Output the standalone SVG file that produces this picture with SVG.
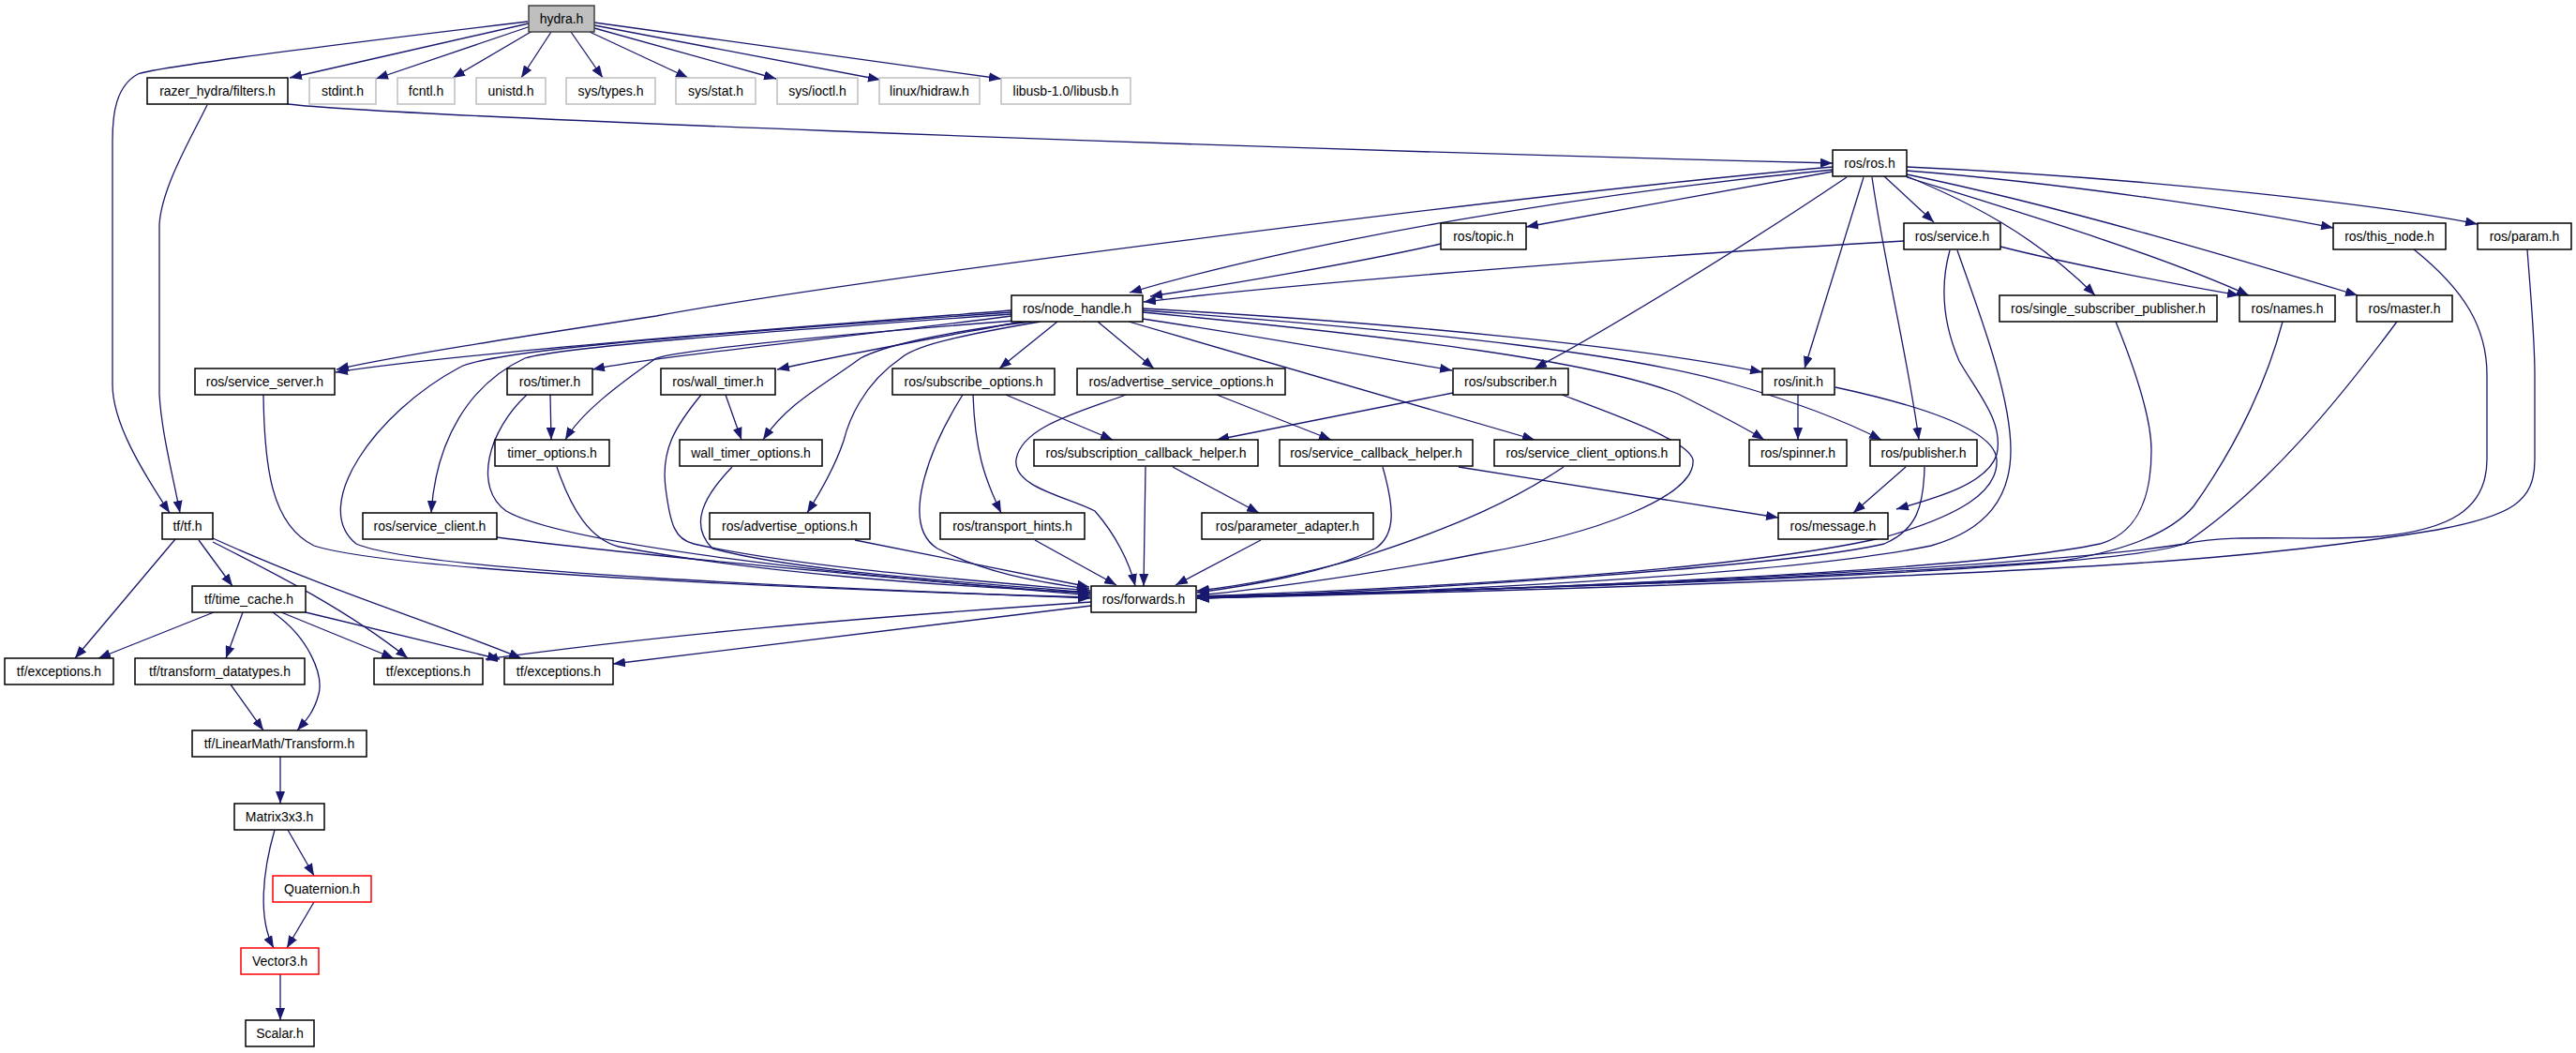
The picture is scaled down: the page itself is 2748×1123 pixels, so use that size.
<svg xmlns="http://www.w3.org/2000/svg" width="2748" height="1123" viewBox="0 0 2748 1123">
<defs>
<marker id="arr" markerUnits="userSpaceOnUse" markerWidth="13" markerHeight="10" viewBox="0 0 13 10" refX="13" refY="5" orient="auto">
<path d="M0,0 L13,5 L0,10 z" fill="#191970"/>
</marker>
<style>
.n rect{fill:#fff;stroke:#000;stroke-width:1.5}
.n.g rect{stroke:#bfbfbf}
.n.r rect{stroke:#ff0000}
.n.root rect{fill:#bfbfbf;stroke:#404040}
.n text{font-family:"Liberation Sans",Arial,sans-serif;font-size:14px;fill:#000;text-anchor:middle}
#edges path{fill:none;stroke:#191970;stroke-width:1.3;marker-end:url(#arr)}
</style>
</defs>
<rect width="2748" height="1123" fill="#fff"/>
<g id="edges">
<path d="M564,25 L309,83"/>
<path d="M566,28 L401,84"/>
<path d="M568,33 L483,83"/>
<path d="M588,34 L556,83"/>
<path d="M609,34 L643,83"/>
<path d="M629,34 L734,83"/>
<path d="M634,30 L828,84"/>
<path d="M634,27 L939,85"/>
<path d="M634,24 L1068,84"/>
<path d="M563,23 C420,40 170,70 147,79 C124,92 120,120 120,150 L120,410 C120,450 150,500 181,547"/>
<path d="M221,112 C205,145 172,200 170,240 L170,420 C172,460 185,510 192,547"/>
<path d="M307,111 C400,122 1200,155 1955,174"/>
<path d="M1955,183 L1628,242"/>
<path d="M1955,181 C1700,205 1400,255 1205,312"/>
<path d="M1955,178 C1600,210 900,300 700,337 C550,360 420,380 359,394"/>
<path d="M1537,260 C1450,280 1300,305 1227,316"/>
<path d="M2031,257 C1800,270 1400,300 1220,322"/>
<path d="M2010,188 L2063,237"/>
<path d="M1970,189 C1850,270 1700,360 1637,393"/>
<path d="M1988,189 L1925,393"/>
<path d="M1997,189 C2010,280 2035,380 2047,469"/>
<path d="M2034,182 C2200,195 2400,225 2489,243"/>
<path d="M2034,178 C2300,190 2550,220 2643,239"/>
<path d="M2034,186 C2200,220 2400,280 2515,315"/>
<path d="M2034,189 C2150,225 2300,270 2399,315"/>
<path d="M2034,188 C2100,215 2170,250 2235,315"/>
<path d="M2134,263 C2200,280 2330,305 2389,315"/>
<path d="M1079,331 C900,345 500,375 358,397"/>
<path d="M1079,333 C700,360 520,375 490,392 C400,440 330,540 380,580 C450,610 900,628 1163,638"/>
<path d="M1079,335 C800,355 600,370 560,382 C500,410 465,470 460,547"/>
<path d="M1079,337 C900,360 700,380 632,394"/>
<path d="M1082,342 C850,360 720,375 700,382 C660,410 620,440 603,469"/>
<path d="M1090,343 C1000,360 900,378 829,394"/>
<path d="M1100,343 C1000,355 940,370 918,382 C880,410 840,430 814,469"/>
<path d="M1110,343 C1010,360 975,370 961,382 C920,410 905,450 900,470 C890,500 875,525 861,547"/>
<path d="M1128,343 L1066,393"/>
<path d="M1171,343 L1231,393"/>
<path d="M1219,340 C1350,360 1450,378 1549,395"/>
<path d="M1204,343 L1637,469"/>
<path d="M1219,333 C1500,360 1700,385 1790,420 C1830,440 1860,455 1882,469"/>
<path d="M1219,331 C1550,355 1750,380 1850,410 C1920,430 1970,450 2007,469"/>
<path d="M1219,329 C1500,345 1750,370 1880,397"/>
<path d="M281,421 C282,500 290,560 335,582 C420,610 900,630 1163,637"/>
<path d="M562,421 C520,460 505,520 540,545 C600,580 900,615 1163,633"/>
<path d="M587,421 L588,469"/>
<path d="M594,498 C610,545 630,575 660,583 C800,610 1000,625 1163,632"/>
<path d="M530,573 C700,595 1000,620 1163,635"/>
<path d="M774,421 L791,469"/>
<path d="M748,421 C720,455 705,480 710,520 C715,560 720,575 740,580 C850,605 1050,620 1163,630"/>
<path d="M781,498 C750,530 735,560 760,585 C850,610 1050,622 1163,632"/>
<path d="M912,576 L1162,626"/>
<path d="M1027,421 C990,480 960,560 1000,585 C1050,610 1100,620 1162,628"/>
<path d="M1038,421 C1040,480 1050,510 1068,547"/>
<path d="M1073,421 L1187,469"/>
<path d="M1201,421 C1150,440 1090,455 1084,490 C1080,520 1140,530 1168,545 C1190,570 1205,600 1211,625"/>
<path d="M1298,421 L1420,469"/>
<path d="M1550,419 L1298,469"/>
<path d="M1222,498 L1220,625"/>
<path d="M1251,498 L1343,547"/>
<path d="M1104,576 L1191,624"/>
<path d="M1345,576 L1254,624"/>
<path d="M1475,498 C1487,540 1490,570 1467,585 C1420,610 1330,625 1277,632"/>
<path d="M1556,498 L1897,552"/>
<path d="M1668,498 C1620,530 1560,560 1450,595 C1380,615 1320,625 1277,630"/>
<path d="M1666,421 C1730,445 1800,470 1806,490 C1810,530 1700,570 1580,590 C1480,610 1350,628 1277,635"/>
<path d="M1918,421 L1918,469"/>
<path d="M1958,413 C2060,435 2128,460 2130,490 C2132,525 2090,550 2010,573 C1850,610 1500,628 1277,636"/>
<path d="M2033,498 L1977,547"/>
<path d="M2053,498 C2052,540 2045,565 2010,580 C1900,605 1500,630 1277,638"/>
<path d="M2080,267 C2068,310 2075,350 2090,385 C2110,420 2138,450 2130,485 C2120,515 2070,530 2023,543"/>
<path d="M2088,267 C2110,330 2145,420 2145,480 C2145,530 2120,565 2060,582 C1900,615 1500,632 1277,638"/>
<path d="M2257,343 C2272,380 2295,440 2295,480 C2295,540 2275,570 2240,580 C2100,610 1600,630 1277,638"/>
<path d="M2435,343 C2420,400 2390,470 2340,540 C2310,575 2250,590 2200,598 C1900,620 1500,632 1277,637"/>
<path d="M2557,343 C2500,420 2420,520 2330,580 C2260,605 1800,625 1277,636"/>
<path d="M2575,266 C2630,310 2653,350 2653,400 L2653,490 C2653,545 2610,565 2540,572 C2460,578 2390,568 2330,580 C2200,602 1700,628 1277,637"/>
<path d="M2696,266 C2700,320 2704,360 2704,400 L2704,490 C2704,535 2680,550 2600,565 C2450,590 2300,602 2050,613 C1800,625 1500,633 1277,638"/>
<path d="M1164,642 C900,660 700,678 518,703"/>
<path d="M1164,646 L654,708"/>
<path d="M187,575 L80,702"/>
<path d="M212,576 L248,625"/>
<path d="M227,578 C290,610 370,650 435,702"/>
<path d="M227,574 C350,630 480,670 556,702"/>
<path d="M228,653 L105,702"/>
<path d="M259,653 L241,702"/>
<path d="M291,653 C330,680 345,720 340,740 C335,760 325,770 317,779"/>
<path d="M300,653 L420,702"/>
<path d="M326,653 L533,703"/>
<path d="M246,730 L281,779"/>
<path d="M299,807 L299,857"/>
<path d="M307,885 L335,934"/>
<path d="M293,885 C280,930 275,980 292,1011"/>
<path d="M335,962 L306,1011"/>
<path d="M299,1039 L299,1088"/>
</g>
<g id="n_hydra" class="n root"><rect x="564" y="6" width="70" height="28"/><text x="599" y="25">hydra.h</text></g>
<g id="n_filters" class="n"><rect x="157" y="83" width="150" height="28"/><text x="232" y="102">razer_hydra/filters.h</text></g>
<g id="n_stdint" class="n g"><rect x="330" y="83" width="71" height="28"/><text x="365.5" y="102">stdint.h</text></g>
<g id="n_fcntl" class="n g"><rect x="424" y="83" width="61" height="28"/><text x="454.5" y="102">fcntl.h</text></g>
<g id="n_unistd" class="n g"><rect x="508" y="83" width="74" height="28"/><text x="545" y="102">unistd.h</text></g>
<g id="n_systypes" class="n g"><rect x="604" y="83" width="95" height="28"/><text x="651.5" y="102">sys/types.h</text></g>
<g id="n_sysstat" class="n g"><rect x="721" y="83" width="85" height="28"/><text x="763.5" y="102">sys/stat.h</text></g>
<g id="n_sysioctl" class="n g"><rect x="829" y="83" width="86" height="28"/><text x="872" y="102">sys/ioctl.h</text></g>
<g id="n_hidraw" class="n g"><rect x="938" y="83" width="107" height="28"/><text x="991.5" y="102">linux/hidraw.h</text></g>
<g id="n_libusb" class="n g"><rect x="1068" y="83" width="138" height="28"/><text x="1137" y="102">libusb-1.0/libusb.h</text></g>
<g id="n_ros" class="n"><rect x="1955" y="160" width="79" height="28"/><text x="1994.5" y="179">ros/ros.h</text></g>
<g id="n_topic" class="n"><rect x="1537" y="238" width="91" height="28"/><text x="1582.5" y="257">ros/topic.h</text></g>
<g id="n_service" class="n"><rect x="2031" y="238" width="103" height="28"/><text x="2082.5" y="257">ros/service.h</text></g>
<g id="n_this_node" class="n"><rect x="2489" y="238" width="120" height="28"/><text x="2549" y="257">ros/this_node.h</text></g>
<g id="n_param" class="n"><rect x="2643" y="238" width="100" height="28"/><text x="2693" y="257">ros/param.h</text></g>
<g id="n_node_handle" class="n"><rect x="1079" y="315" width="140" height="28"/><text x="1149" y="334">ros/node_handle.h</text></g>
<g id="n_ssp" class="n"><rect x="2133" y="315" width="232" height="28"/><text x="2249" y="334">ros/single_subscriber_publisher.h</text></g>
<g id="n_names" class="n"><rect x="2389" y="315" width="102" height="28"/><text x="2440" y="334">ros/names.h</text></g>
<g id="n_master" class="n"><rect x="2514" y="315" width="102" height="28"/><text x="2565" y="334">ros/master.h</text></g>
<g id="n_service_server" class="n"><rect x="208" y="393" width="149" height="28"/><text x="282.5" y="412">ros/service_server.h</text></g>
<g id="n_timer" class="n"><rect x="541" y="393" width="91" height="28"/><text x="586.5" y="412">ros/timer.h</text></g>
<g id="n_wall_timer" class="n"><rect x="705" y="393" width="122" height="28"/><text x="766" y="412">ros/wall_timer.h</text></g>
<g id="n_subscribe_options" class="n"><rect x="952" y="393" width="173" height="28"/><text x="1038.5" y="412">ros/subscribe_options.h</text></g>
<g id="n_adv_srv_opts" class="n"><rect x="1149" y="393" width="222" height="28"/><text x="1260" y="412">ros/advertise_service_options.h</text></g>
<g id="n_subscriber" class="n"><rect x="1550" y="393" width="123" height="28"/><text x="1611.5" y="412">ros/subscriber.h</text></g>
<g id="n_init" class="n"><rect x="1880" y="393" width="77" height="28"/><text x="1918.5" y="412">ros/init.h</text></g>
<g id="n_timer_options" class="n"><rect x="528" y="469" width="122" height="28"/><text x="589" y="488">timer_options.h</text></g>
<g id="n_wall_timer_options" class="n"><rect x="725" y="469" width="152" height="28"/><text x="801" y="488">wall_timer_options.h</text></g>
<g id="n_sub_cb_helper" class="n"><rect x="1103" y="469" width="239" height="28"/><text x="1222.5" y="488">ros/subscription_callback_helper.h</text></g>
<g id="n_srv_cb_helper" class="n"><rect x="1365" y="469" width="206" height="28"/><text x="1468" y="488">ros/service_callback_helper.h</text></g>
<g id="n_srv_client_opts" class="n"><rect x="1594" y="469" width="198" height="28"/><text x="1693" y="488">ros/service_client_options.h</text></g>
<g id="n_spinner" class="n"><rect x="1866" y="469" width="104" height="28"/><text x="1918" y="488">ros/spinner.h</text></g>
<g id="n_publisher" class="n"><rect x="1995" y="469" width="114" height="28"/><text x="2052" y="488">ros/publisher.h</text></g>
<g id="n_tf" class="n"><rect x="173" y="547" width="54" height="28"/><text x="200" y="566">tf/tf.h</text></g>
<g id="n_service_client" class="n"><rect x="387" y="547" width="143" height="28"/><text x="458.5" y="566">ros/service_client.h</text></g>
<g id="n_adv_opts" class="n"><rect x="757" y="547" width="171" height="28"/><text x="842.5" y="566">ros/advertise_options.h</text></g>
<g id="n_transport_hints" class="n"><rect x="1003" y="547" width="154" height="28"/><text x="1080" y="566">ros/transport_hints.h</text></g>
<g id="n_param_adapter" class="n"><rect x="1282" y="547" width="183" height="28"/><text x="1373.5" y="566">ros/parameter_adapter.h</text></g>
<g id="n_message" class="n"><rect x="1897" y="547" width="117" height="28"/><text x="1955.5" y="566">ros/message.h</text></g>
<g id="n_time_cache" class="n"><rect x="205" y="625" width="121" height="28"/><text x="265.5" y="644">tf/time_cache.h</text></g>
<g id="n_forwards" class="n"><rect x="1164" y="625" width="112" height="28"/><text x="1220" y="644">ros/forwards.h</text></g>
<g id="n_exc1" class="n"><rect x="5" y="702" width="116" height="28"/><text x="63" y="721">tf/exceptions.h</text></g>
<g id="n_transform_dt" class="n"><rect x="144" y="702" width="181" height="28"/><text x="234.5" y="721">tf/transform_datatypes.h</text></g>
<g id="n_exc2" class="n"><rect x="399" y="702" width="116" height="28"/><text x="457" y="721">tf/exceptions.h</text></g>
<g id="n_exc3" class="n"><rect x="538" y="702" width="116" height="28"/><text x="596" y="721">tf/exceptions.h</text></g>
<g id="n_transform" class="n"><rect x="205" y="779" width="186" height="28"/><text x="298" y="798">tf/LinearMath/Transform.h</text></g>
<g id="n_matrix" class="n"><rect x="250" y="857" width="96" height="28"/><text x="298" y="876">Matrix3x3.h</text></g>
<g id="n_quat" class="n r"><rect x="291" y="934" width="105" height="28"/><text x="343.5" y="953">Quaternion.h</text></g>
<g id="n_vector3" class="n r"><rect x="257" y="1011" width="83" height="28"/><text x="298.5" y="1030">Vector3.h</text></g>
<g id="n_scalar" class="n"><rect x="262" y="1088" width="73" height="28"/><text x="298.5" y="1107">Scalar.h</text></g>
</svg>
